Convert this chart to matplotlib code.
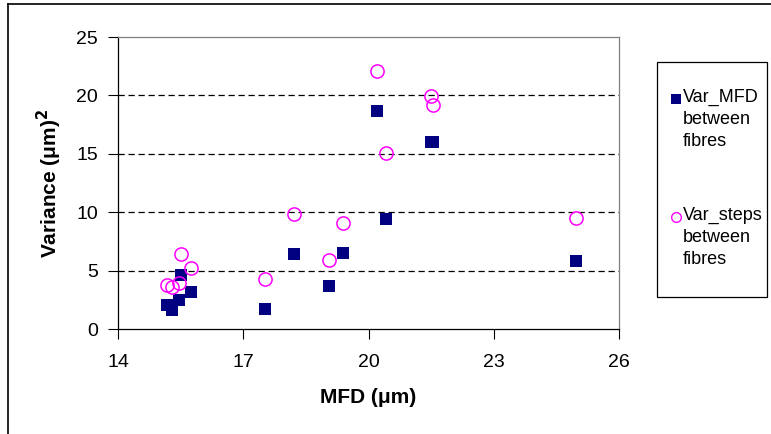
import matplotlib
matplotlib.use("Agg")
import matplotlib.pyplot as plt
from matplotlib.lines import Line2D
from matplotlib.patches import Rectangle

plt.rcParams['font.family'] = ['Liberation Sans', 'DejaVu Sans']

# MFD (um) of each fibre, and the two variances
mfd = [15.17, 15.30, 15.45, 15.50, 15.74, 17.51, 18.21, 19.06, 19.38, 20.20, 20.43, 21.50, 21.54, 24.96]
var_mfd = [2.05, 1.65, 2.50, 4.62, 3.15, 1.69, 6.42, 3.65, 6.48, 18.64, 9.39, 16.00, 16.05, 5.80]
var_steps = [3.75, 3.60, 3.95, 6.39, 5.20, 4.25, 9.87, 5.91, 9.05, 22.09, 15.04, 19.95, 19.20, 9.53]

xticks = [14, 17, 20, 23, 26]
yticks = [0, 5, 10, 15, 20, 25]
legend_lines = [['Var_MFD', 'between', 'fibres'], ['Var_steps', 'between', 'fibres']]

W, H = 771, 434
fig = plt.figure(figsize=(W/100, H/100), dpi=100)
ax = fig.add_axes([118/W, 105/H, 501/W, 292/H])

ax.plot(mfd, var_mfd, linestyle='none', marker='s', markersize=9,
        color='#000080', markeredgewidth=0, zorder=3)
ax.plot(mfd, var_steps, linestyle='none', marker='o', markersize=9.5,
        markerfacecolor='none', markeredgecolor='#FF00FF', markeredgewidth=1.1, zorder=4)

ax.set_xlim(14, 26)
ax.set_ylim(0, 25)
ax.set_xticks(xticks)
ax.set_yticks(yticks)
ax.tick_params(direction='out', length=7, width=0.8, labelsize=14, color='black')
ax.tick_params(axis='x', pad=11)
ax.tick_params(axis='y', pad=7.5)

# dashed horizontal gridlines
for y in yticks[1:-1]:
    ax.axhline(y, color='black', linewidth=0.9, linestyle=(0, (5, 3)), zorder=1)

ax.spines['top'].set_color('#808080')
ax.spines['right'].set_color('#808080')
for s in ax.spines.values():
    s.set_linewidth(0.9)

ax.set_xlabel('MFD (\u03bcm)', fontsize=15, fontweight='bold', labelpad=12)
ax.set_ylabel('Variance (\u03bcm)$^\\mathbf{2}$', fontsize=15, fontweight='bold', labelpad=9)

# legend box, drawn by hand so the key sits by the first text line
fig.add_artist(Rectangle((657/W, 1 - 297/H), 110/W, 235/H, transform=fig.transFigure,
                         facecolor='white', edgecolor='black', linewidth=0.9))
keys = [dict(marker='s', markersize=6.8, color='#000080', markeredgewidth=0),
        dict(marker='o', markersize=7, markerfacecolor='none', markeredgecolor='#FF00FF',
             markeredgewidth=1.0)]
tops = [97, 215]
for lines, key, top in zip(legend_lines, keys, tops):
    fig.add_artist(Line2D([676/W], [1 - (top + 2)/H], linestyle='none', **key))
    for i, txt in enumerate(lines):
        fig.text(683/W, 1 - (top + 22.5*i)/H, txt, fontsize=13, va='center', ha='left')

# outer chart border
fig.add_artist(Line2D([8/W, 8/W], [0, 1 - 4/H], color='black', linewidth=1.2))
fig.add_artist(Line2D([8/W, 1], [1 - 4/H, 1 - 4/H], color='black', linewidth=1.2))

fig.savefig('out.png', dpi=100)
